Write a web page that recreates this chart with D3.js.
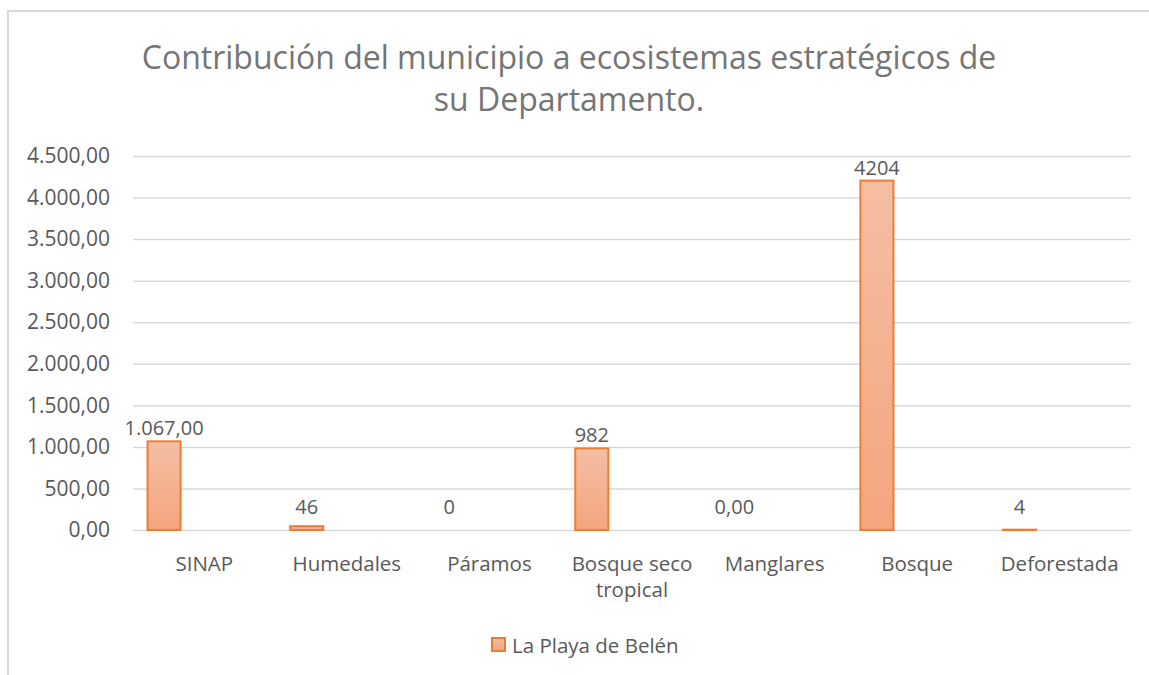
<!DOCTYPE html>
<html>
<head>
<meta charset="utf-8">
<script src="https://cdn.jsdelivr.net/npm/d3@7"></script>
<style>
  body { margin: 0; background: #fff; }
  svg text { font-family: "Open Sans", sans-serif; fill: #595959; }
</style>
</head>
<body>
<svg id="chart"></svg>
<script>
var width = 1149;
var height = 675;
var margin = {left: 133, right: 18, top: 156, bottom: 145};

// data
var categories = ["SINAP", "Humedales", "Páramos", "Bosque seco tropical", "Manglares", "Bosque", "Deforestada"];
var values = [1067, 46, 0, 982, 0, 4204, 4];
var valueLabels = ["1.067,00", "46", "0", "982", "0,00", "4204", "4"];
var yTicks = [0, 500, 1000, 1500, 2000, 2500, 3000, 3500, 4000, 4500];
var seriesName = "La Playa de Belén";
var titleLines = ["Contribución del municipio a ecosistemas estratégicos de", "su Departamento."];

var svg = d3.select("#chart").attr("width", width).attr("height", height);

var defs = svg.append("defs");
var grad = defs.append("linearGradient").attr("id", "barGrad")
    .attr("x1", 0).attr("y1", 0).attr("x2", 0).attr("y2", 1);
grad.append("stop").attr("offset", "0%").attr("stop-color", "#f5bea3");
grad.append("stop").attr("offset", "100%").attr("stop-color", "#f4a57f");

// chart frame
svg.append("rect")
    .attr("x", 8).attr("y", 11)
    .attr("width", width + 20).attr("height", height + 20)
    .attr("fill", "none").attr("stroke", "#d9d9d9").attr("stroke-width", 2);

// title
svg.append("g").selectAll("text")
    .data(titleLines)
    .enter()
    .append("text")
    .attr("x", 569)
    .attr("y", function (d, i) { return 69 + i * 42; })
    .attr("text-anchor", "middle")
    .style("font-size", "32px")
    .style("fill", "#757575")
    .text(function (d) { return d; });

var x = d3.scaleBand()
    .domain(categories)
    .range([margin.left, width - margin.right])
    .paddingInner(0);

var y = d3.scaleLinear()
    .domain([0, 4500])
    .range([height - margin.bottom, margin.top]);

var fmt = d3.formatLocale({decimal: ",", thousands: ".", grouping: [3], currency: ["", ""]}).format(",.2f");

// gridlines
var yAxis = d3.axisLeft(y)
    .tickValues(yTicks)
    .tickSize(-(width - margin.left - margin.right))
    .tickPadding(23)
    .tickFormat(fmt);

var yG = svg.append("g")
    .attr("transform", "translate(" + margin.left + ",0)")
    .call(yAxis);
yG.select(".domain").remove();
yG.selectAll(".tick line").attr("stroke", "#d9d9d9").attr("stroke-width", 1.5);
yG.selectAll(".tick text").style("font-size", "21px").attr("fill", "#595959");

// category labels
var xLabels = svg.append("g").selectAll("text")
    .data(categories)
    .enter()
    .append("text")
    .attr("x", function (d) { return x(d) + x.bandwidth() / 2; })
    .attr("y", height - margin.bottom + 41)
    .attr("text-anchor", "middle")
    .style("font-size", "20.5px");

xLabels.each(function (d) {
    var t = d3.select(this);
    var lines = d === "Bosque seco tropical" ? ["Bosque seco", "tropical"] : [d];
    lines.forEach(function (l, i) {
        t.append("tspan")
            .attr("x", x(d) + x.bandwidth() / 2)
            .attr("dy", i === 0 ? 0 : 26)
            .text(l);
    });
});

// bars
var barOffset = x.bandwidth() * 0.102;
var barW = x.bandwidth() * 0.232;

svg.append("g").selectAll("rect")
    .data(values)
    .enter()
    .append("rect")
    .attr("x", function (d, i) { return x(categories[i]) + barOffset; })
    .attr("y", function (d) { return y(d); })
    .attr("width", barW)
    .attr("height", function (d) { return y(0) - y(d); })
    .attr("fill", "url(#barGrad)")
    .attr("stroke", "#ed7d31")
    .attr("stroke-width", 2)
    .attr("stroke-opacity", function (d) { return d > 0 ? 1 : 0; });

// value labels
svg.append("g").selectAll("text")
    .data(values)
    .enter()
    .append("text")
    .attr("x", function (d, i) { return x(categories[i]) + barOffset + barW / 2; })
    .attr("y", function (d) { return Math.min(y(d) - 6, y(0) - 16); })
    .attr("text-anchor", "middle")
    .style("font-size", "20px")
    .text(function (d, i) { return valueLabels[i]; });

// legend
var legend = svg.append("g").attr("transform", "translate(492,638)");
legend.append("rect")
    .attr("width", 13).attr("height", 13)
    .attr("fill", "url(#barGrad)")
    .attr("stroke", "#ed7d31").attr("stroke-width", 2);
legend.append("text")
    .attr("x", 20).attr("y", 15)
    .style("font-size", "20.5px")
    .text(seriesName);
</script>
</body>
</html>
